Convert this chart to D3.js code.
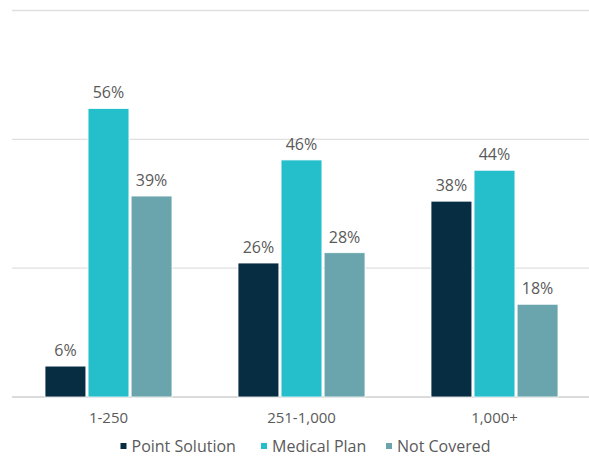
<!DOCTYPE html>
<html><head><meta charset="utf-8">
<script src="https://cdn.jsdelivr.net/npm/d3@7"></script>
<style>body{margin:0;background:#fff}svg{display:block}</style>
</head><body>
<svg id="c" width="589" height="456"></svg>
<script>
const categories = ["1-250", "251-1,000", "1,000+"];
const seriesNames = ["Point Solution", "Medical Plan", "Not Covered"];
const pointSolution = [6, 26, 38];
const medicalPlan = [56, 46, 44];
const notCovered = [39, 28, 18];
const yTicks = [0, 25, 50, 75];
const colors = ["#062d41", "#24bfcb", "#6aa5ae"];

const seriesValues = [pointSolution, medicalPlan, notCovered];
const svg = d3.select("#c");
const font = "'Open Sans', Lato, sans-serif";
const textColor = "#5a5a5a";
const plotLeft = 12, plotRight = 591, plotTop = 10.5, plotBottom = 397;

const x0 = d3.scaleBand().domain(categories).range([plotLeft, plotRight]).paddingInner(0.342).paddingOuter(0.171);
const x1 = d3.scaleBand().domain(seriesNames).range([0, x0.bandwidth()]).paddingInner(0.05);
const y = d3.scaleLinear().domain([0, 75]).range([plotBottom, plotTop]);

svg.append("g").selectAll("line").data(yTicks).join("line")
  .attr("x1", plotLeft).attr("x2", plotRight)
  .attr("y1", d => y(d)).attr("y2", d => y(d))
  .attr("stroke", d => d === 0 ? "#cfcfcf" : "#e0e0e0").attr("stroke-width", 1.3);

const groups = svg.append("g").selectAll("g").data(categories).join("g")
  .attr("transform", c => `translate(${x0(c)},0)`);

groups.selectAll("rect").data((c, i) => seriesNames.map((s, j) => ({s, j, v: seriesValues[j][i]})))
  .join("rect")
  .attr("x", d => x1(d.s)).attr("width", x1.bandwidth())
  .attr("y", d => y(d.v)).attr("height", d => y(0) - y(d.v))
  .attr("fill", d => colors[d.j]).attr("stroke", "#fff").attr("stroke-width", 0.8);

groups.selectAll("text").data((c, i) => seriesNames.map((s, j) => ({s, j, v: seriesValues[j][i]})))
  .join("text")
  .attr("x", d => x1(d.s) + x1.bandwidth() / 2).attr("y", d => y(d.v) - 10)
  .attr("text-anchor", "middle").attr("font-family", font).attr("font-size", 16)
  .attr("fill", textColor).text(d => d.v + "%");

const xAxis = svg.append("g").attr("transform", `translate(0,${plotBottom})`)
  .call(d3.axisBottom(x0).tickSize(0).tickPadding(15));
xAxis.select(".domain").remove();
xAxis.selectAll("text").attr("font-family", font).attr("font-size", 15).attr("fill", textColor);

const legendX = [120.5, 261, 386];
const lg = svg.append("g").selectAll("g").data(seriesNames).join("g")
  .attr("transform", (d, i) => `translate(${legendX[i]},446)`);
lg.append("rect").attr("x", 0).attr("y", -3).attr("width", 6).attr("height", 6).attr("fill", (d, i) => colors[i]);
lg.append("text").attr("x", 11).attr("y", 5.5).attr("font-family", font).attr("font-size", 16)
  .attr("fill", textColor).text(d => d);
</script>
</body></html>
